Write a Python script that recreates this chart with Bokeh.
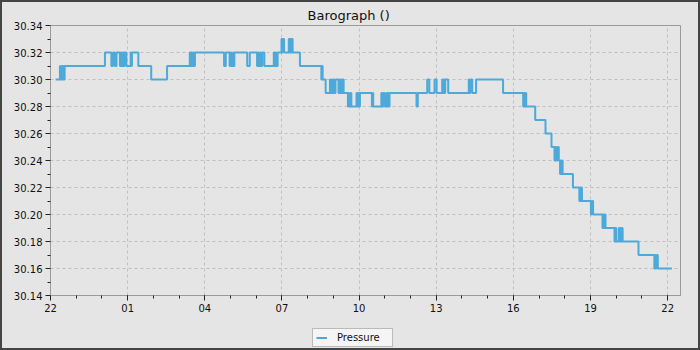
from datetime import datetime, timedelta
from bokeh.plotting import figure
from bokeh.layouts import column
from bokeh.models import (ColumnDataSource, DatetimeTickFormatter, FixedTicker,
                          Range1d, Legend, PrintfTickFormatter)
from bokeh.embed import file_html
from bokeh.resources import INLINE

# ---- data (readings where the pressure changes, 24 h from 22:00) ----
times = [
    "22:12", "22:22", "22:23", "22:26", "22:28", "22:30", "22:32", "22:33",
    "00:07", "00:22", "00:26", "00:30", "00:34", "00:42", "00:44", "00:46", "00:49",
    "00:51", "00:53", "00:57", "01:07", "01:08", "01:10", "01:25", "01:55", "02:32",
    "03:25", "03:27", "03:29", "03:31", "03:34", "03:35", "03:37",
    "04:45", "04:49", "04:58", "05:00", "05:02", "05:06", "05:07", "05:09", "05:39", "05:45",
    "06:02", "06:04", "06:06", "06:09", "06:11", "06:14", "06:19",
    "06:41", "06:43", "06:45", "06:47", "06:50",
    "06:59", "07:01", "07:02", "07:05",
    "07:16", "07:18", "07:19", "07:21", "07:23", "07:25",
    "07:42", "08:32", "08:34", "08:35", "08:42",
    "08:52", "08:53", "08:56", "08:58", "09:00", "09:02", "09:05",
    "09:12", "09:14", "09:16", "09:19", "09:21", "09:23", "09:24",
    "09:34", "09:35", "09:37", "09:40", "09:42",
    "09:54", "09:56", "09:58", "10:00", "10:02",
    "10:30", "10:32", "10:33",
    "10:52", "10:54", "10:57", "11:00", "11:04", "11:06", "11:08", "11:09", "11:11",
    "12:14", "12:17", "12:39", "12:44", "12:56", "13:01",
    "13:14", "13:16", "13:18", "13:19", "13:21", "13:28",
    "14:16", "14:17", "14:20", "14:24", "14:33",
    "15:36",
    "16:23", "16:24", "16:26", "16:28", "16:30",
    "16:51", "17:15", "17:29",
    "17:36", "17:38", "17:40", "17:43", "17:46",
    "17:49", "17:50", "17:52", "17:54", "17:55",
    "18:19",
    "18:34", "18:36", "18:38", "18:39", "18:40",
    "19:01", "19:03", "19:06",
    "19:28", "19:29", "19:31", "19:33", "19:35",
    "19:56", "19:58", "20:00",
    "20:06", "20:07", "20:09", "20:11", "20:13", "20:15",
    "20:52",
    "21:29", "21:31", "21:32", "21:34", "21:37",
    "22:10",
]
pressure = [
    30.30, 30.31, 30.30, 30.31, 30.30, 30.31, 30.30, 30.31,
    30.32, 30.31, 30.32, 30.31, 30.32, 30.31, 30.32, 30.31, 30.32,
    30.31, 30.32, 30.31, 30.32, 30.31, 30.32, 30.31, 30.30, 30.31,
    30.32, 30.31, 30.32, 30.31, 30.32, 30.31, 30.32,
    30.31, 30.32, 30.31, 30.32, 30.31, 30.32, 30.31, 30.32, 30.31, 30.32,
    30.31, 30.32, 30.31, 30.32, 30.31, 30.32, 30.31,
    30.32, 30.31, 30.32, 30.31, 30.32,
    30.33, 30.32, 30.33, 30.32,
    30.33, 30.32, 30.33, 30.32, 30.33, 30.32,
    30.31, 30.30, 30.31, 30.30, 30.29,
    30.30, 30.29, 30.30, 30.29, 30.30, 30.29, 30.30,
    30.29, 30.30, 30.29, 30.30, 30.29, 30.30, 30.29,
    30.28, 30.29, 30.28, 30.29, 30.28,
    30.29, 30.28, 30.29, 30.28, 30.29,
    30.28, 30.29, 30.28,
    30.29, 30.28, 30.29, 30.28, 30.29, 30.28, 30.29, 30.28, 30.29,
    30.28, 30.29, 30.30, 30.29, 30.30, 30.29,
    30.30, 30.29, 30.30, 30.29, 30.30, 30.29,
    30.30, 30.29, 30.30, 30.29, 30.30,
    30.29,
    30.28, 30.29, 30.28, 30.29, 30.28,
    30.27, 30.26, 30.25,
    30.24, 30.25, 30.24, 30.25, 30.24,
    30.23, 30.24, 30.23, 30.24, 30.23,
    30.22,
    30.21, 30.22, 30.21, 30.22, 30.21,
    30.20, 30.21, 30.20,
    30.19, 30.20, 30.19, 30.20, 30.19,
    30.18, 30.19, 30.18,
    30.19, 30.18, 30.19, 30.18, 30.19, 30.18,
    30.17,
    30.16, 30.17, 30.16, 30.17, 30.16,
    30.16,
]
y_ticks = [30.14, 30.16, 30.18, 30.20, 30.22, 30.24, 30.26, 30.28, 30.30, 30.32, 30.34]
y_minor = [30.15, 30.17, 30.19, 30.21, 30.23, 30.25, 30.27, 30.29, 30.31, 30.33]
x_tick_labels = ["22", "01", "04", "07", "10", "13", "16", "19", "22"]
title_text = "Barograph ()"
series_name = "Pressure"

# ---- build timestamps (day rolls over after midnight) ----
base = datetime(2024, 3, 1)
stamps = []
day = 0
prev = None
for t in times:
    h, m = map(int, t.split(":"))
    if prev is not None and (h, m) < prev:
        day += 1
    prev = (h, m)
    stamps.append(base + timedelta(days=day, hours=h, minutes=m))

n = min(len(stamps), len(pressure))
src = ColumnDataSource(dict(t=stamps[:n], p=pressure[:n]))

epoch = datetime(1970, 1, 1)
def ms(d):
    return (d - epoch).total_seconds() * 1000.0

x_start = datetime(2024, 3, 1, 22, 0)
x_end = datetime(2024, 3, 2, 22, 30)
major_x = [ms(x_start + timedelta(hours=3 * i)) for i in range(len(x_tick_labels))]
minor_x = [ms(x_start + timedelta(hours=i)) for i in range(25)]

FONT = "DejaVu Sans"
BG = "#e5e5e5"
EDGE = "2px solid #444444"
LINE_COLOR = "#4ca9da"

# ---- main chart ----
p = figure(width=700, height=326, x_axis_type="datetime",
           x_range=Range1d(x_start, x_end), y_range=Range1d(30.14, 30.34),
           output_backend="svg", toolbar_location=None,
           background_fill_color=BG, border_fill_color=BG,
           min_border_left=48, min_border_right=22,
           min_border_top=21, min_border_bottom=33)
p.styles = {"border-top": EDGE, "border-left": EDGE, "border-right": EDGE}

p.title.text = title_text
p.title.align = "left"
p.title.vertical_align = "bottom"
p.title.text_font = FONT
p.title.text_font_size = "13px"
p.title.text_font_style = "normal"
p.title.text_color = "#111111"
p.title.offset = 257
p.title.standoff = 6

p.outline_line_color = "#9a9a9a"
p.outline_line_width = 1

r = p.step(x="t", y="p", source=src, mode="after",
           line_color=LINE_COLOR, line_width=2)

p.xaxis.ticker = FixedTicker(ticks=major_x, minor_ticks=minor_x)
p.xaxis.formatter = DatetimeTickFormatter(hours="%H", hourmin="%H", days="%H",
                                          minutes="%H", minsec="%H", months="%H",
                                          years="%H")
p.yaxis.ticker = FixedTicker(ticks=y_ticks, minor_ticks=y_minor)
p.yaxis.formatter = PrintfTickFormatter(format="%.2f")

for ax in (p.xaxis[0], p.yaxis[0]):
    ax.axis_line_color = "#9a9a9a"
    ax.major_tick_line_color = "#222222"
    ax.minor_tick_line_color = "#222222"
    ax.major_tick_in = 0
    ax.major_tick_out = 5
    ax.minor_tick_in = 0
    ax.minor_tick_out = 3
    ax.major_label_text_font = FONT
    ax.major_label_text_font_size = "10px"
    ax.major_label_text_color = "#111111"
    ax.major_label_standoff = 3

p.grid.grid_line_color = "#c0c0c0"
p.grid.grid_line_dash = "3 3"
p.grid.grid_line_width = 1

# ---- legend strip below the chart ----
leg = figure(width=700, height=24, x_range=Range1d(0, 1), y_range=Range1d(0, 1),
             output_backend="svg", toolbar_location=None,
             x_axis_location=None, y_axis_location=None, min_border=0,
             background_fill_color=BG, border_fill_color=BG,
             outline_line_color=None)
leg.styles = {"border-bottom": EDGE, "border-left": EDGE, "border-right": EDGE}
leg.grid.visible = False
# key line kept outside the strip's visible range; only its legend entry shows
key = leg.line(x=[-2, -1], y=[-2, -1], line_color=LINE_COLOR, line_width=2)

legend = Legend(items=[(series_name, [key])], location=(262, 3),
                background_fill_color="#f5f5f5", background_fill_alpha=1.0,
                border_line_color="#808080", border_line_width=1,
                label_text_font=FONT, label_text_font_size="10px",
                label_text_color="#111111",
                glyph_width=11, glyph_height=11, label_height=11,
                label_width=52, label_standoff=10, padding=3, margin=0,
                spacing=0)
leg.add_layout(legend)

layout = column(p, leg, spacing=0, styles={"background-color": BG})
open("out.html", "w").write(file_html(layout, INLINE))
